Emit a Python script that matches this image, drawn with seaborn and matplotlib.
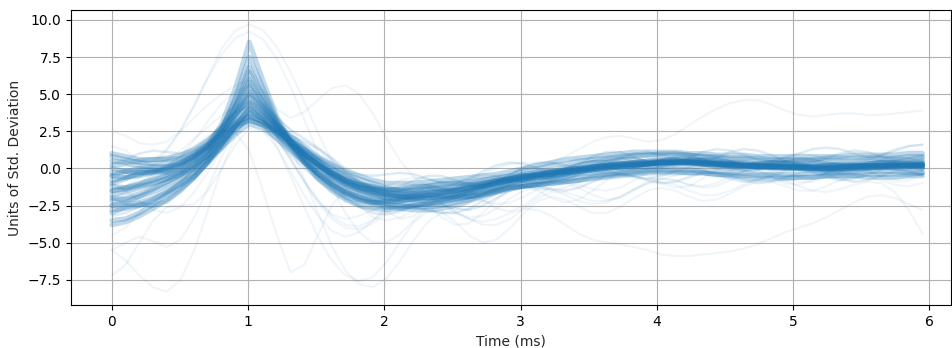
import numpy as np
import pandas as pd
import matplotlib
matplotlib.use("Agg")
import matplotlib.pyplot as plt
import seaborn as sns

# time axis (ms), 60 samples from 0 to 5.95 ms
time_ms = np.linspace(0, 5.95, 60)

# typical waveforms (units of std. deviation)
core_traces = [
    [-0.8,-0.6,-0.4,-0.2,0.0,0.3,0.8,1.4,2.2,3.3,4.3,3.5,2.5,1.7,0.9,0.2,-0.4,-0.9,-1.3,-1.6,-1.8,-1.9,-2.0,-2.0,-1.9,-1.8,-1.6,-1.4,-1.2,-1.0,-0.8,-0.6,-0.5,-0.3,-0.2,-0.1,0.0,0.1,0.2,0.3,0.3,0.35,0.35,0.3,0.3,0.25,0.2,0.15,0.1,0.05,0.0,0.0,0.0,0.0,0.0,0.05,0.05,0.1,0.1,0.15],
    [-2.5,-2.3,-1.9,-1.4,-0.9,-0.4,0.3,1.2,2.3,3.8,5.5,4.2,2.8,1.6,0.6,-0.3,-1.0,-1.6,-2.0,-2.3,-2.5,-2.6,-2.5,-2.4,-2.2,-1.9,-1.6,-1.3,-1.0,-0.8,-0.6,-0.4,-0.2,-0.1,0.0,0.1,0.2,0.3,0.4,0.5,0.5,0.5,0.4,0.4,0.3,0.3,0.2,0.2,0.1,0.1,0.0,0.0,-0.1,-0.1,0.0,0.0,0.1,0.1,0.2,0.2],
    [0.8,0.6,0.4,0.3,0.4,0.6,1.0,1.6,2.3,2.9,3.2,3.0,2.5,1.9,1.3,0.7,0.2,-0.3,-0.7,-1.0,-1.3,-1.5,-1.5,-1.4,-1.3,-1.2,-1.0,-0.8,-0.7,-0.5,-0.4,-0.3,-0.2,-0.1,0.0,0.1,0.2,0.3,0.4,0.5,0.6,0.6,0.6,0.5,0.5,0.4,0.4,0.3,0.3,0.3,0.2,0.2,0.2,0.3,0.3,0.3,0.4,0.4,0.4,0.5],
    [-3.5,-3.4,-3.0,-2.4,-1.7,-1.0,-0.2,0.8,2.2,4.2,6.5,4.8,3.0,1.6,0.4,-0.6,-1.3,-1.9,-2.2,-2.3,-2.2,-2.0,-1.8,-1.8,-1.9,-1.8,-1.5,-1.1,-0.8,-0.7,-0.8,-0.9,-0.7,-0.4,-0.1,0.1,0.1,0.0,0.1,0.3,0.5,0.6,0.5,0.3,0.1,0.0,0.1,0.3,0.4,0.3,0.1,-0.1,-0.2,-0.1,0.1,0.3,0.4,0.3,0.1,0.0],
    [-1.5,-1.4,-1.2,-1.0,-0.7,-0.3,0.2,0.9,1.8,2.9,3.8,3.3,2.6,1.9,1.2,0.6,0.0,-0.5,-1.0,-1.4,-1.7,-1.9,-2.1,-2.2,-2.2,-2.1,-1.9,-1.7,-1.5,-1.3,-1.2,-1.1,-1.0,-0.9,-0.8,-0.7,-0.6,-0.5,-0.4,-0.3,-0.3,-0.3,-0.3,-0.3,-0.4,-0.4,-0.5,-0.5,-0.5,-0.6,-0.6,-0.6,-0.5,-0.5,-0.5,-0.4,-0.4,-0.4,-0.4,-0.3],
    [0.2,0.3,0.2,0.1,0.1,0.4,0.9,1.5,2.4,3.7,5.0,3.9,2.7,1.7,0.9,0.2,-0.4,-0.9,-1.3,-1.6,-1.8,-1.8,-1.7,-1.6,-1.6,-1.5,-1.4,-1.2,-1.0,-0.8,-0.6,-0.5,-0.4,-0.2,-0.1,0.1,0.2,0.3,0.4,0.4,0.5,0.5,0.4,0.4,0.3,0.2,0.1,0.1,0.0,0.0,0.1,0.1,0.2,0.2,0.2,0.1,0.1,0.0,0.0,0.0],
    [-2.0,-2.1,-1.9,-1.6,-1.2,-0.7,0.0,1.0,2.6,4.8,7.5,5.4,3.3,1.7,0.4,-0.7,-1.5,-2.1,-2.5,-2.7,-2.8,-2.7,-2.5,-2.3,-2.1,-1.9,-1.7,-1.5,-1.3,-1.0,-0.8,-0.6,-0.5,-0.4,-0.2,-0.1,0.0,0.1,0.2,0.3,0.4,0.4,0.5,0.5,0.4,0.4,0.3,0.2,0.2,0.1,0.1,0.0,0.0,0.0,0.1,0.1,0.1,0.2,0.2,0.2],
    [-0.3,-0.2,-0.2,-0.1,0.1,0.4,0.9,1.6,2.4,3.1,3.5,3.1,2.5,1.8,1.1,0.5,-0.1,-0.6,-1.0,-1.3,-1.6,-1.8,-1.9,-2.0,-2.0,-2.0,-1.9,-1.8,-1.6,-1.4,-1.2,-1.0,-0.8,-0.6,-0.4,-0.3,-0.2,-0.1,0.0,0.1,0.1,0.2,0.2,0.2,0.2,0.2,0.2,0.1,0.1,0.1,0.1,0.0,0.0,0.0,0.0,0.1,0.1,0.1,0.1,0.2],
    [-1.0,-0.7,-0.3,-0.2,-0.3,-0.1,0.5,1.3,2.3,3.6,4.8,3.9,2.8,1.8,1.0,0.2,-0.5,-1.0,-1.3,-1.4,-1.5,-1.4,-1.2,-1.2,-1.4,-1.6,-1.6,-1.3,-0.9,-0.6,-0.5,-0.5,-0.4,-0.1,0.2,0.4,0.4,0.3,0.2,0.3,0.5,0.7,0.7,0.5,0.3,0.2,0.2,0.3,0.4,0.4,0.3,0.1,0.0,0.0,0.1,0.3,0.4,0.4,0.3,0.3],
    [-2.8,-2.7,-2.5,-2.1,-1.6,-1.0,-0.3,0.6,1.7,2.9,4.0,3.4,2.6,1.7,0.8,0.0,-0.7,-1.3,-1.7,-2.0,-2.2,-2.3,-2.4,-2.4,-2.3,-2.1,-1.9,-1.6,-1.3,-1.1,-0.9,-0.7,-0.5,-0.3,-0.2,-0.1,0.0,0.1,0.2,0.3,0.4,0.4,0.4,0.3,0.3,0.2,0.2,0.1,0.1,0.0,0.0,0.0,0.0,0.1,0.1,0.2,0.2,0.2,0.2,0.2],
    [0.5,0.4,0.5,0.6,0.6,0.7,1.1,1.7,2.8,4.3,6.0,4.5,3.0,1.9,1.0,0.3,-0.3,-0.8,-1.1,-1.3,-1.4,-1.4,-1.3,-1.2,-1.1,-1.0,-0.9,-0.8,-0.6,-0.5,-0.1,0.0,0.2,0.3,0.5,0.6,0.7,0.8,0.9,0.9,0.9,0.9,0.9,0.8,0.8,0.7,0.7,0.7,0.6,0.6,0.6,0.6,0.7,0.7,0.7,0.7,0.7,0.7,0.8,0.8],
    [-1.8,-1.6,-1.3,-1.0,-0.7,-0.4,0.0,0.6,1.4,2.3,3.0,2.7,2.0,1.2,0.4,-0.3,-0.9,-1.5,-1.9,-2.2,-2.4,-2.5,-2.6,-2.6,-2.5,-2.3,-2.1,-1.8,-1.5,-1.3,-1.2,-1.1,-1.0,-0.9,-0.8,-0.6,-0.5,-0.4,-0.3,-0.2,-0.2,-0.2,-0.3,-0.3,-0.4,-0.5,-0.6,-0.7,-0.7,-0.7,-0.6,-0.6,-0.5,-0.5,-0.5,-0.6,-0.6,-0.6,-0.5,-0.5],
    [-0.5,-0.6,-0.5,-0.3,0.0,0.3,0.8,1.6,3.0,5.4,8.5,5.9,3.5,1.8,0.6,-0.4,-1.1,-1.6,-1.9,-2.1,-2.2,-2.2,-2.1,-1.9,-1.7,-1.5,-1.3,-1.1,-0.9,-0.8,-0.7,-0.5,-0.4,-0.2,-0.1,0.0,0.1,0.2,0.3,0.3,0.4,0.4,0.3,0.3,0.2,0.2,0.2,0.1,0.1,0.1,0.0,0.0,0.0,0.1,0.1,0.1,0.2,0.2,0.2,0.2],
    [-3.0,-2.6,-2.4,-2.5,-2.2,-1.5,-0.6,0.5,1.9,3.6,5.2,4.1,2.9,1.9,1.0,0.2,-0.5,-1.1,-1.5,-1.7,-1.9,-1.9,-1.8,-1.7,-1.6,-1.5,-1.3,-1.1,-0.9,-0.7,-0.5,-0.4,-0.3,-0.2,-0.1,0.0,0.1,0.2,0.3,0.3,0.4,0.4,0.4,0.4,0.3,0.3,0.2,0.2,0.1,0.1,0.1,0.1,0.1,0.1,0.2,0.2,0.2,0.3,0.3,0.3],
    [1.0,0.8,0.6,0.6,0.7,0.9,1.3,1.9,2.7,3.7,4.5,3.8,3.0,2.2,1.5,0.8,0.3,-0.2,-0.5,-0.8,-1.0,-1.0,-1.0,-0.9,-0.8,-0.7,-0.6,-0.5,-0.4,-0.2,0.0,0.2,0.4,0.6,0.7,0.8,0.9,1.0,1.1,1.1,1.1,1.1,1.0,1.0,0.9,0.9,0.9,0.8,0.8,0.8,0.8,0.8,0.8,0.8,0.9,0.9,0.9,0.9,1.0,1.0],
    [-1.2,-1.3,-1.1,-0.8,-0.5,-0.2,0.3,0.9,1.8,2.8,3.6,3.1,2.4,1.7,1.0,0.3,-0.3,-0.9,-1.4,-1.7,-2.0,-2.0,-1.9,-1.8,-1.8,-1.9,-1.9,-1.7,-1.4,-1.0,-0.7,-0.6,-0.6,-0.5,-0.3,0.0,0.2,0.2,0.1,0.1,0.2,0.4,0.5,0.5,0.3,0.1,0.0,0.0,0.1,0.2,0.2,0.1,-0.1,-0.2,-0.2,0.0,0.1,0.2,0.2,0.1],
    [-2.2,-2.0,-1.7,-1.3,-0.9,-0.5,0.1,0.9,1.9,3.2,4.4,3.6,2.7,1.8,1.0,0.3,-0.3,-0.8,-1.2,-1.5,-1.7,-1.7,-1.7,-1.6,-1.5,-1.4,-1.2,-1.0,-0.9,-0.7,-0.5,-0.4,-0.3,-0.1,0.0,0.1,0.2,0.3,0.3,0.4,0.4,0.5,0.5,0.4,0.4,0.3,0.3,0.2,0.2,0.1,0.1,0.1,0.1,0.1,0.2,0.2,0.2,0.2,0.2,0.3],
    [0.0,-0.2,-0.3,-0.3,-0.1,0.2,0.6,1.2,1.9,2.7,3.3,2.9,2.3,1.5,0.7,0.0,-0.6,-1.1,-1.5,-1.8,-2.0,-2.1,-2.1,-2.0,-1.9,-1.7,-1.5,-1.2,-1.0,-0.8,-0.6,-0.4,-0.2,0.0,0.2,0.4,0.6,0.7,0.8,0.9,1.0,1.0,0.9,0.8,0.7,0.6,0.6,0.5,0.5,0.5,0.5,0.5,0.5,0.5,0.5,0.6,0.6,0.6,0.6,0.7],
    [-1.5,-1.3,-1.0,-0.7,-0.4,0.0,0.6,1.4,2.7,4.6,6.8,5.0,3.2,1.8,0.6,-0.4,-1.1,-1.7,-2.1,-2.3,-2.3,-2.2,-2.0,-1.8,-1.6,-1.5,-1.3,-1.2,-1.0,-0.8,-0.6,-0.5,-0.3,-0.2,-0.1,0.0,0.1,0.2,0.3,0.3,0.4,0.4,0.4,0.3,0.3,0.3,0.2,0.2,0.1,0.1,0.1,0.1,0.1,0.1,0.1,0.2,0.2,0.2,0.2,0.2],
    [-3.8,-3.6,-3.2,-2.7,-2.1,-1.4,-0.6,0.4,1.6,2.9,4.0,3.3,2.3,1.3,0.4,-0.4,-1.1,-1.7,-2.1,-2.4,-2.6,-2.7,-2.8,-2.8,-2.7,-2.5,-2.2,-1.9,-1.6,-1.3,-1.2,-1.1,-0.9,-0.8,-0.6,-0.5,-0.4,-0.3,-0.2,-0.1,-0.1,-0.1,-0.1,-0.2,-0.2,-0.3,-0.3,-0.4,-0.4,-0.4,-0.4,-0.3,-0.3,-0.3,-0.3,-0.2,-0.2,-0.2,-0.3,-0.3],
    [-0.5,-0.2,0.0,-0.1,-0.2,0.1,0.7,1.4,2.6,4.1,5.8,4.4,3.0,2.1,1.3,0.5,-0.2,-0.8,-1.1,-1.2,-1.4,-1.5,-1.4,-1.2,-1.0,-1.0,-1.1,-1.2,-1.0,-0.7,-0.4,-0.2,-0.2,-0.3,-0.2,0.1,0.4,0.6,0.6,0.4,0.3,0.3,0.5,0.6,0.6,0.4,0.2,0.1,0.2,0.4,0.5,0.5,0.3,0.2,0.1,0.2,0.3,0.4,0.5,0.4],
    [-2.5,-2.4,-2.3,-2.0,-1.6,-1.1,-0.5,0.4,1.4,2.6,3.5,3.1,2.4,1.6,0.9,0.3,-0.3,-0.7,-1.1,-1.4,-1.6,-1.6,-1.6,-1.5,-1.4,-1.3,-1.1,-1.0,-0.8,-0.7,-0.5,-0.4,-0.3,-0.2,-0.1,0.0,0.1,0.2,0.3,0.3,0.4,0.4,0.4,0.3,0.3,0.3,0.2,0.2,0.2,0.1,0.1,0.1,0.2,0.2,0.2,0.2,0.2,0.3,0.3,0.3],
]

# noisier waveforms
noisy_traces = [
    [0.3,0.6,1.0,1.2,1.1,1.0,1.3,2.0,2.9,3.8,4.2,3.6,2.8,2.2,1.8,1.3,0.6,-0.2,-0.9,-1.3,-1.4,-1.2,-0.8,-0.5,-0.5,-0.8,-1.1,-1.2,-0.9,-0.4,0.1,0.4,0.4,0.2,0.0,0.0,0.3,0.7,1.0,1.1,0.9,0.6,0.4,0.4,0.7,1.1,1.3,1.2,0.9,0.5,0.3,0.4,0.7,1.0,1.2,1.1,0.8,0.6,0.7,0.9],
    [-2.0,-2.4,-2.6,-2.3,-1.7,-1.2,-0.6,0.3,1.5,2.8,3.9,3.2,2.2,1.2,0.3,-0.5,-1.3,-2.0,-2.6,-3.0,-3.1,-2.9,-2.6,-2.4,-2.5,-2.7,-2.8,-2.5,-2.0,-1.5,-1.2,-1.2,-1.4,-1.5,-1.3,-0.9,-0.5,-0.4,-0.5,-0.8,-1.0,-0.9,-0.6,-0.3,-0.3,-0.5,-0.8,-1.0,-0.9,-0.6,-0.3,-0.2,-0.4,-0.7,-0.9,-0.8,-0.5,-0.2,-0.2,-0.4],
    [-1.0,-0.6,-0.1,0.2,0.2,0.3,0.8,1.6,2.7,4.0,5.0,4.3,3.4,2.6,2.0,1.4,0.7,0.0,-0.4,-0.5,-0.4,-0.3,-0.4,-0.7,-1.0,-1.0,-0.7,-0.2,0.2,0.4,0.3,0.0,-0.2,-0.1,0.3,0.8,1.1,1.1,0.8,0.4,0.2,0.3,0.7,1.1,1.3,1.2,0.9,0.6,0.5,0.7,1.0,1.3,1.4,1.3,1.0,0.8,0.9,1.2,1.5,1.6],
    [-3.2,-3.0,-2.6,-2.2,-1.9,-1.4,-0.7,0.3,1.5,2.6,3.3,2.8,1.9,0.9,0.0,-0.8,-1.5,-2.1,-2.5,-2.7,-2.7,-2.6,-2.6,-2.8,-3.0,-3.0,-2.7,-2.2,-1.7,-1.3,-1.1,-1.0,-0.9,-0.7,-0.4,-0.2,-0.2,-0.4,-0.6,-0.7,-0.5,-0.2,0.0,-0.1,-0.4,-0.7,-0.9,-0.8,-0.5,-0.2,-0.1,-0.3,-0.6,-0.8,-0.7,-0.4,-0.1,0.0,-0.2,-0.5],
]

# outlying waveforms
outlier_traces = [
    [-0.5,-0.3,0.0,0.5,1.3,2.5,4.2,6.2,8.1,9.3,9.7,9.3,8.2,6.5,4.5,2.4,0.5,-1.2,-2.5,-3.3,-3.5,-3.3,-2.8,-2.2,-1.7,-1.4,-1.3,-1.4,-1.5,-1.3,-0.9,-0.4,0.0,0.2,0.1,-0.2,-0.4,-0.3,0.0,0.5,0.9,1.1,1.0,0.6,0.2,-0.1,-0.2,0.0,0.4,0.8,1.0,0.9,0.6,0.3,0.3,0.5,0.9,1.3,1.5,1.6],
    [-1.5,-1.2,-0.6,0.2,1.2,2.6,4.3,6.1,7.7,8.8,9.2,8.7,7.4,5.5,3.3,1.0,-1.2,-3.0,-4.3,-5.0,-5.0,-4.4,-3.5,-2.6,-2.0,-1.8,-1.9,-2.2,-2.4,-2.3,-1.9,-1.4,-1.0,-0.9,-1.1,-1.4,-1.5,-1.3,-0.8,-0.3,0.0,0.1,-0.1,-0.4,-0.6,-0.5,-0.2,0.2,0.5,0.5,0.3,0.0,-0.3,-0.4,-0.2,0.2,0.6,0.8,0.7,0.5],
    [-7.2,-6.5,-5.0,-3.5,-2.6,-2.5,-2.4,-1.5,0.0,1.6,2.7,2.5,1.4,-0.2,-1.8,-3.2,-4.2,-4.6,-4.3,-3.5,-2.6,-2.0,-2.0,-2.5,-3.3,-3.8,-3.7,-3.0,-2.1,-1.4,-1.2,-1.5,-2.0,-2.3,-2.1,-1.5,-0.8,-0.3,-0.2,-0.5,-1.0,-1.3,-1.2,-0.7,-0.1,0.3,0.3,-0.1,-0.6,-1.0,-1.1,-0.8,-0.3,0.1,0.2,-0.1,-0.6,-0.9,-0.8,-0.4],
    [-5.5,-6.2,-7.2,-8.0,-8.3,-7.5,-5.5,-2.8,0.0,2.2,3.5,3.0,1.5,-0.5,-2.6,-4.6,-6.2,-7.2,-7.6,-7.3,-6.3,-4.9,-3.6,-2.9,-2.9,-3.6,-4.5,-5.0,-4.8,-4.0,-3.0,-2.2,-1.9,-2.1,-2.6,-3.0,-3.0,-2.6,-2.0,-1.5,-1.3,-1.5,-1.9,-2.2,-2.1,-1.7,-1.2,-0.9,-0.9,-1.2,-1.5,-1.5,-1.2,-0.8,-0.5,-0.5,-0.8,-1.1,-1.2,-1.0],
    [0.5,0.3,0.0,0.2,0.6,1.2,2.0,2.8,3.6,4.2,4.5,4.2,3.5,2.6,1.5,0.5,-0.5,-1.2,-1.5,-1.5,-1.2,-0.8,-0.6,-0.7,-0.9,-1.0,-0.8,-0.4,0.0,0.3,0.4,0.3,0.4,0.8,1.3,1.8,2.1,2.2,2.0,1.8,1.9,2.3,2.9,3.5,4.0,4.4,4.6,4.6,4.3,3.9,3.6,3.5,3.6,3.7,3.7,3.6,3.6,3.7,3.8,3.9],
    [-1.0,-1.5,-2.2,-2.8,-3.0,-2.6,-1.6,-0.2,1.3,2.8,3.8,3.4,2.2,0.7,-0.9,-2.3,-3.4,-4.0,-4.1,-3.7,-3.0,-2.3,-1.9,-1.9,-2.3,-2.9,-3.4,-3.6,-3.4,-3.0,-2.7,-2.8,-3.2,-3.8,-4.4,-4.8,-5.0,-5.1,-5.3,-5.5,-5.8,-5.9,-5.9,-5.8,-5.7,-5.6,-5.4,-5.1,-4.7,-4.3,-4.0,-3.7,-3.3,-2.8,-2.3,-1.9,-1.8,-2.0,-2.4,-2.8],
    [-4.5,-4.0,-3.0,-2.0,-1.2,-0.8,-0.4,0.4,1.5,2.6,3.2,2.8,1.9,0.6,-0.8,-2.1,-3.2,-3.8,-3.9,-3.5,-2.8,-2.1,-1.8,-1.9,-2.4,-3.0,-3.3,-3.2,-2.7,-2.0,-1.5,-1.3,-1.4,-1.8,-2.2,-2.4,-2.3,-1.9,-1.4,-1.0,-0.9,-1.1,-1.5,-1.8,-1.8,-1.5,-1.1,-0.7,-0.6,-0.8,-1.2,-1.5,-1.6,-1.4,-1.1,-0.9,-1.0,-1.6,-2.8,-4.4],
    [-2.0,-1.6,-1.0,-0.4,0.2,0.8,1.5,2.2,2.6,2.4,1.2,-1.5,-4.5,-7.0,-6.5,-4.5,-2.5,-1.4,-1.3,-2.0,-2.9,-3.4,-3.2,-2.5,-1.7,-1.3,-1.5,-2.1,-2.7,-2.9,-2.5,-1.8,-1.2,-1.0,-1.3,-1.8,-2.1,-2.0,-1.5,-1.0,-0.7,-0.8,-1.1,-1.3,-1.2,-0.8,-0.4,-0.2,-0.3,-0.6,-0.9,-0.9,-0.6,-0.3,-0.1,-0.2,-0.5,-0.7,-0.6,-0.4],
    [1.5,1.2,0.6,0.2,0.2,0.8,1.9,3.2,4.4,5.2,5.5,4.8,3.4,1.5,-0.7,-3.0,-5.2,-6.9,-7.8,-8.0,-7.4,-6.2,-4.8,-3.6,-3.0,-3.0,-3.4,-3.8,-3.8,-3.4,-2.7,-2.0,-1.6,-1.6,-1.9,-2.2,-2.2,-1.9,-1.4,-0.9,-0.7,-0.8,-1.1,-1.2,-1.0,-0.6,-0.2,0.0,-0.1,-0.4,-0.6,-0.6,-0.3,0.0,0.2,0.1,-0.2,-0.4,-0.3,0.0],
    [2.5,2.2,1.7,1.6,1.8,2.5,3.4,4.3,5.0,5.6,6.0,5.2,4.0,3.4,3.8,4.6,5.4,5.6,5.0,3.7,2.0,0.5,-0.6,-1.2,-1.3,-1.0,-0.6,-0.4,-0.5,-0.8,-1.0,-0.9,-0.5,0.0,0.4,0.5,0.3,0.0,-0.2,-0.1,0.2,0.5,0.7,0.6,0.3,0.0,-0.2,-0.1,0.2,0.5,0.7,0.6,0.4,0.3,0.4,0.6,0.9,1.1,1.2,1.2],
    [-5.5,-5.0,-4.6,-4.9,-5.3,-4.8,-3.3,-1.3,0.8,2.7,4.0,3.4,2.1,0.6,-0.9,-2.2,-3.1,-3.4,-3.2,-2.8,-2.5,-2.4,-2.6,-2.9,-3.0,-2.8,-2.3,-1.7,-1.3,-1.1,-1.2,-1.4,-1.5,-1.3,-0.9,-0.5,-0.3,-0.3,-0.5,-0.7,-0.7,-0.5,-0.2,0.1,0.2,0.1,-0.1,-0.3,-0.3,-0.1,0.2,0.4,0.4,0.2,0.0,-0.1,0.0,0.2,0.4,0.4],
]

groups = {"core": core_traces, "noisy": noisy_traces, "outlier": outlier_traces}

rows = []
uid = 0
for gname, traces in groups.items():
    for tr in traces:
        if len(tr) != len(time_ms):
            raise ValueError(f"{gname} trace has {len(tr)} points")
        for t, v in zip(time_ms, tr):
            rows.append((gname, uid, t, v))
        uid += 1
df = pd.DataFrame(rows, columns=["group", "trace", "time", "value"])

sns.set_style("white")
plt.rcParams["font.family"] = ["DejaVu Sans"]

fig = plt.figure(figsize=(9.53, 3.48), dpi=100)
ax = fig.add_axes([0.0745, 0.1236, 0.9235, 0.8477])

blue = "#1f77b4"
styles = {"core": (0.28, 3.6), "noisy": (0.14, 1.8), "outlier": (0.07, 1.5)}
for gname, (a, lw) in styles.items():
    sns.lineplot(data=df[df["group"] == gname], x="time", y="value", units="trace",
                 estimator=None, color=blue, alpha=a, linewidth=lw, ax=ax, legend=False)

ax.set_xlim(-0.3, 6.16)
ax.set_ylim(-9.2, 10.67)
ax.set_xticks([0, 1, 2, 3, 4, 5, 6])
ax.set_yticks([-7.5, -5.0, -2.5, 0.0, 2.5, 5.0, 7.5, 10.0])
ax.set_yticklabels(["\u22127.5", "\u22125.0", "\u22122.5", "0.0", "2.5", "5.0", "7.5", "10.0"])
ax.grid(True, color="#b0b0b0", linewidth=0.8)
for s in ax.spines.values():
    s.set_visible(True)
    s.set_color("black")
    s.set_linewidth(0.8)
ax.tick_params(axis="both", which="both", direction="out", length=3.5, width=0.8,
               colors="black", labelsize=10, bottom=True, left=True)
ax.set_xlabel("Time (ms)", fontsize=10)
ax.set_ylabel("Units of Std. Deviation", fontsize=10)

fig.savefig("out.png", dpi=100)
